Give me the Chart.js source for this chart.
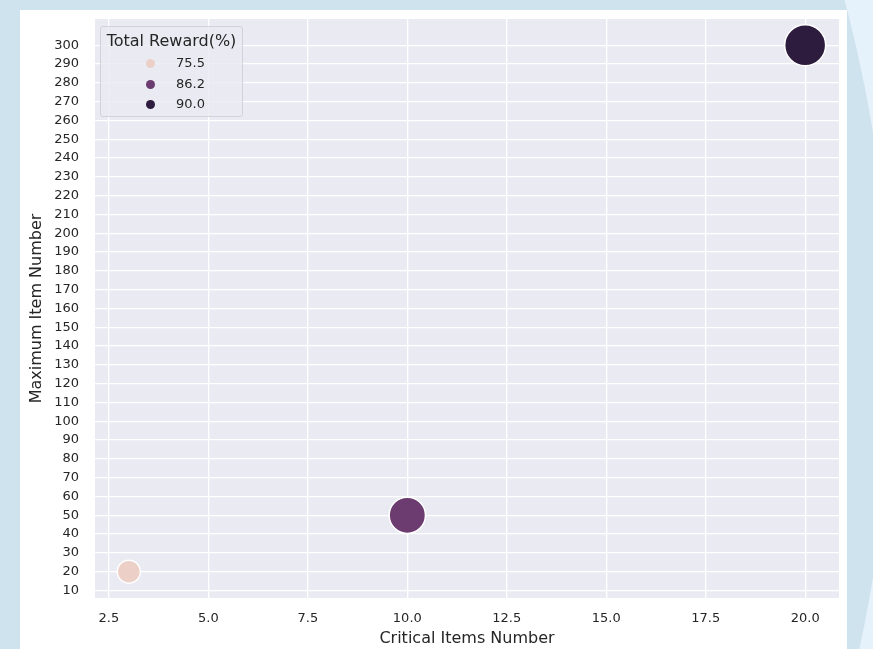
<!DOCTYPE html>
<html>
<head>
<meta charset="utf-8">
<title>Total Reward scatter</title>
<script src="https://cdn.jsdelivr.net/npm/chart.js@4/dist/chart.umd.min.js"></script>
<style>
  html, body { margin: 0; padding: 0; }
  body {
    width: 873px; height: 649px; overflow: hidden; position: relative;
    background: #e6f2fb;
    font-family: "DejaVu Sans", sans-serif;
  }
  .bg-circle {
    position: absolute; left: -1871px; top: -1026px;
    width: 2762px; height: 2762px; border-radius: 50%;
    background: #cfe3ef;
  }
  .card {
    position: absolute; left: 20px; top: 10px;
    width: 827px; height: 639px; background: #ffffff;
  }
  #chart { position: absolute; left: 0; top: 0; }
  .legend {
    position: absolute; left: 80px; top: 16px;
    width: 141px; height: 89px;
    background: rgba(234,234,242,0.8);
    border: 1px solid #d2d2da; border-radius: 3px;
    color: #262626;
  }
  .legend .title {
    position: absolute; left: 0; right: 0; top: 4px;
    text-align: center; font-size: 16px;
  }
  .legend .row { position: absolute; left: 0; height: 16px; font-size: 13px; }
  .legend .dot {
    position: absolute; left: 45px; top: 3px;
    width: 9px; height: 9px; border-radius: 50%;
  }
  .legend .lbl { position: absolute; left: 75px; top: -1px; }
</style>
</head>
<body>
<div class="bg-circle"></div>
<div class="card">
  <canvas id="chart" width="827" height="639"></canvas>
  <div class="legend" id="legend"></div>
</div>

<script>
// ------------------------------------------------------------
//  data
// ------------------------------------------------------------
const criticalItems = [3, 10, 20];          // x
const maxItems      = [20, 50, 300];        // y
const totalReward   = [75.5, 86.2, 90.0];   // hue + size
const rewardLabels  = ['75.5', '86.2', '90.0'];
const xTickStep     = 2.5;
const yTicks        = [10, 20, 30, 40, 50, 60, 70, 80, 90, 100, 110, 120, 130, 140, 150,
                       160, 170, 180, 190, 200, 210, 220, 230, 240, 250, 260, 270, 280, 290, 300];

const palette = ['#ecd0c8', '#6c3b70', '#2d1c3d'];
const TEXT = '#262626';

// size mapping like seaborn: linear between min and max radius
function radiusFor(v) {
  const lo = Math.min(...totalReward), hi = Math.max(...totalReward);
  return 11.5 + (v - lo) / (hi - lo) * 9;
}

// 5% margins like matplotlib autoscale
function padded(arr) {
  const lo = Math.min(...arr), hi = Math.max(...arr), m = (hi - lo) * 0.05;
  return [lo - m, hi + m];
}
const [xMin, xMax] = padded(criticalItems);
const [yMin, yMax] = padded(maxItems);

const plotBg = {
  id: 'plotBg',
  beforeDraw(chart) {
    const { ctx, chartArea: a } = chart;
    ctx.save();
    ctx.fillStyle = '#eaeaf2';
    ctx.fillRect(a.left, a.top, a.right - a.left, a.bottom - a.top);
    ctx.restore();
  }
};

const datasets = totalReward.map((v, i) => ({
  label: rewardLabels[i],
  data: [{ x: criticalItems[i], y: maxItems[i], r: radiusFor(v) }],
  backgroundColor: palette[i],
  borderColor: '#ffffff',
  borderWidth: 1.5,
  hoverRadius: 0,
  clip: false,
}));

new Chart(document.getElementById('chart'), {
  type: 'bubble',
  data: { datasets },
  plugins: [plotBg],
  options: {
    responsive: false,
    animation: false,
    layout: { autoPadding: false, padding: { top: 9, right: 8, left: 0, bottom: 0 } },
    plugins: { legend: { display: false }, tooltip: { enabled: false } },
    scales: {
      x: {
        type: 'linear', min: xMin, max: xMax,
        afterFit: s => { s.height = 51; s.paddingLeft = 0; s.paddingRight = 0; },
        ticks: {
          stepSize: xTickStep, includeBounds: false, padding: 13,
          color: TEXT, font: { family: 'DejaVu Sans', size: 13 },
          callback: v => Number(v).toFixed(1),
        },
        grid: { color: '#ffffff', lineWidth: 1.3, drawTicks: false },
        border: { display: false },
        title: {
          display: true, text: 'Critical Items Number', color: TEXT,
          font: { family: 'DejaVu Sans', size: 16 }, padding: { top: 0, bottom: 1 },
        },
      },
      y: {
        type: 'linear', min: yMin, max: yMax,
        afterFit: s => { s.width = 75; s.paddingTop = 0; s.paddingBottom = 0; },
        afterBuildTicks: s => { s.ticks = yTicks.map(v => ({ value: v })); },
        ticks: {
          padding: 16, color: TEXT, font: { family: 'DejaVu Sans', size: 13 },
        },
        grid: { color: '#ffffff', lineWidth: 1.3, drawTicks: false },
        border: { display: false },
        title: {
          display: true, text: 'Maximum Item Number', color: TEXT,
          font: { family: 'DejaVu Sans', size: 16 }, padding: { top: 7, bottom: 0 },
        },
      },
    },
  },
});

// legend box in the upper left corner of the plot
function renderLegend() {
  const box = document.getElementById('legend');
  box.innerHTML = '<div class="title">Total Reward(%)</div>';
  rewardLabels.forEach((lbl, i) => {
    const row = document.createElement('div');
    row.className = 'row';
    row.style.top = (29 + i * 20.5) + 'px';
    row.innerHTML = `<span class="dot" style="background:${palette[i]}"></span><span class="lbl">${lbl}</span>`;
    box.appendChild(row);
  });
}
renderLegend();
</script>
</body>
</html>
